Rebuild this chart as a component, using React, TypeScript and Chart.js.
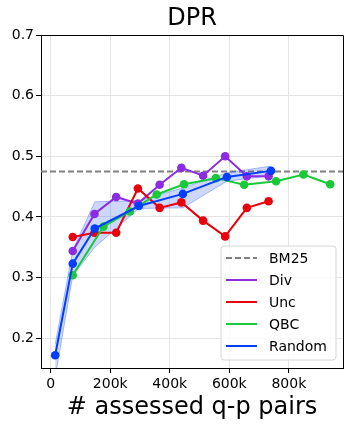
import React, { useEffect, useRef } from 'react';
import { Chart, registerables } from 'chart.js';

Chart.register(...registerables);

// x values in thousands of assessed q-p pairs
const divX = [74, 147, 220, 293, 366, 439, 512, 586, 659, 732];
const divY = [0.344, 0.405, 0.433, 0.422, 0.453, 0.481, 0.468, 0.5, 0.467, 0.467];

const uncX = [74, 147, 220, 293, 366, 439, 512, 586, 659, 732];
const uncY = [0.367, 0.374, 0.374, 0.447, 0.415, 0.424, 0.394, 0.368, 0.415, 0.426];

const qbcX = [74, 177, 266, 356, 448, 555, 650, 757, 849, 939];
const qbcY = [0.304, 0.384, 0.409, 0.437, 0.454, 0.464, 0.453, 0.459, 0.47, 0.454];

const randX = [15, 74, 148, 296, 444, 592, 740];
const randY = [0.172, 0.323, 0.381, 0.418, 0.438, 0.466, 0.476];
const randUpper = [0.19, 0.345, 0.425, 0.427, 0.448, 0.473, 0.484];
const randLower = [0.135, 0.303, 0.35, 0.414, 0.415, 0.459, 0.468];

const bm25 = 0.475;

const xTicks = [0, 200, 400, 600, 800];
const yTicks = [0.2, 0.3, 0.4, 0.5, 0.6, 0.7];
const xMin = -32.6;
const xMax = 982;
const yMin = 0.151;
const yMax = 0.7;

const COLORS = {
  bm25: '#808080',
  div: '#8b2be2',
  unc: '#e8000b',
  qbc: '#1ac938',
  rand: '#023eff',
};

const FONT = 'DejaVu Sans';

const pts = (xs: number[], ys: number[]) => xs.map((x, i) => ({ x, y: ys[i] }));

const decorPlugin = {
  id: 'decor',
  afterDraw(chart: any) {
    const { ctx, chartArea } = chart;
    const { left, right, top, bottom } = chartArea;
    ctx.save();
    // top & right spines
    ctx.strokeStyle = '#000';
    ctx.lineWidth = 1;
    ctx.beginPath();
    ctx.moveTo(left, top + 0.5);
    ctx.lineTo(right + 0.5, top + 0.5);
    ctx.lineTo(right + 0.5, bottom);
    ctx.stroke();
    // title
    ctx.fillStyle = '#000';
    ctx.font = `24px "${FONT}"`;
    ctx.textAlign = 'center';
    ctx.textBaseline = 'middle';
    ctx.fillText('DPR', (left + right) / 2, 19);

    // legend
    const items = chart.data.datasets.filter((d: any) => d.inLegend);
    const boxW = 115;
    const rowH = 22;
    const boxH = items.length * rowH + 4;
    const bx = right - 7 - boxW;
    const by = bottom - 8 - boxH;
    const r = 3;
    ctx.beginPath();
    ctx.moveTo(bx + r, by);
    ctx.lineTo(bx + boxW - r, by);
    ctx.quadraticCurveTo(bx + boxW, by, bx + boxW, by + r);
    ctx.lineTo(bx + boxW, by + boxH - r);
    ctx.quadraticCurveTo(bx + boxW, by + boxH, bx + boxW - r, by + boxH);
    ctx.lineTo(bx + r, by + boxH);
    ctx.quadraticCurveTo(bx, by + boxH, bx, by + boxH - r);
    ctx.lineTo(bx, by + r);
    ctx.quadraticCurveTo(bx, by, bx + r, by);
    ctx.closePath();
    ctx.fillStyle = 'rgba(255,255,255,0.85)';
    ctx.fill();
    ctx.strokeStyle = '#d6d6d6';
    ctx.lineWidth = 1;
    ctx.stroke();

    ctx.font = `14px "${FONT}"`;
    ctx.textAlign = 'left';
    ctx.textBaseline = 'middle';
    items.forEach((d: any, i: number) => {
      const cy = by + 12 + i * rowH;
      ctx.beginPath();
      ctx.strokeStyle = d.borderColor;
      ctx.lineWidth = 2;
      ctx.setLineDash(d.borderDash && d.borderDash.length ? [6, 3] : []);
      ctx.moveTo(bx + 5, cy);
      ctx.lineTo(bx + 36, cy);
      ctx.stroke();
      ctx.setLineDash([]);
      ctx.fillStyle = '#000';
      ctx.fillText(d.label, bx + 48, cy + 1);
    });
    ctx.restore();
  },
};

export default function App() {
  const ref = useRef<HTMLCanvasElement | null>(null);

  useEffect(() => {
    document.body.style.margin = '0';
    const canvas = ref.current;
    if (!canvas) return;
    Chart.defaults.font.family = FONT;
    const line = (label: string, color: string, data: any[], order: number) => ({
      label,
      data,
      borderColor: color,
      backgroundColor: color,
      borderWidth: 2,
      pointRadius: 4.3,
      pointHoverRadius: 4.3,
      pointBorderWidth: 0,
      pointBackgroundColor: color,
      fill: false,
      tension: 0,
      order,
      inLegend: true,
    });
    const chart = new Chart(canvas, {
      type: 'line',
      data: {
        datasets: [
          {
            label: 'BM25',
            data: [
              { x: xMin, y: bm25 },
              { x: xMax, y: bm25 },
            ],
            borderColor: COLORS.bm25,
            borderWidth: 1.8,
            borderDash: [6, 3],
            pointRadius: 0,
            fill: false,
            order: 6,
            inLegend: true,
          } as any,
          line('Div', COLORS.div, pts(divX, divY), 3),
          line('Unc', COLORS.unc, pts(uncX, uncY), 2),
          line('QBC', COLORS.qbc, pts(qbcX, qbcY), 1),
          line('Random', COLORS.rand, pts(randX, randY), 0),
          {
            label: 'Random upper',
            data: pts(randX, randUpper),
            borderColor: 'rgba(2,62,255,0.3)',
            backgroundColor: 'rgba(2,62,255,0.2)',
            borderWidth: 1,
            pointRadius: 0,
            fill: '+1',
            order: 4,
          } as any,
          {
            label: 'Random lower',
            data: pts(randX, randLower),
            borderColor: 'rgba(2,62,255,0.3)',
            backgroundColor: 'rgba(2,62,255,0.2)',
            borderWidth: 1,
            pointRadius: 0,
            fill: false,
            order: 5,
          } as any,
        ],
      },
      options: {
        animation: false,
        responsive: false,
        maintainAspectRatio: false,
        events: [],
        layout: { padding: { left: 0, right: 10, top: 35, bottom: 0 } },
        plugins: {
          legend: { display: false },
          title: { display: false },
          tooltip: { enabled: false },
        },
        scales: {
          x: {
            type: 'linear',
            min: xMin,
            max: xMax,
            afterBuildTicks: (s: any) => {
              s.ticks = xTicks.map((v) => ({ value: v }));
            },
            afterFit: (s: any) => {
              s.height = 62;
            },
            ticks: {
              color: '#000',
              font: { size: 14, family: FONT },
              padding: 3,
              maxRotation: 0,
              callback: (v: any) => (v === 0 ? '0' : `${v}k`),
            },
            grid: {
              color: '#e4e4e4',
              lineWidth: 1,
              tickColor: '#000',
              tickLength: 5,
              tickWidth: 1,
            },
            border: { color: '#000', width: 1 },
            title: {
              display: true,
              text: '# assessed q-p pairs',
              color: '#000',
              font: { size: 24, family: FONT },
              padding: { top: 0, bottom: 8 },
            },
          },
          y: {
            type: 'linear',
            min: yMin,
            max: yMax,
            afterBuildTicks: (s: any) => {
              s.ticks = yTicks.map((v) => ({ value: v }));
            },
            afterFit: (s: any) => {
              s.width = 41;
            },
            ticks: {
              color: '#000',
              font: { size: 14, family: FONT },
              padding: 2,
              callback: (v: any) => Number(v).toFixed(1),
            },
            grid: {
              color: '#e4e4e4',
              lineWidth: 1,
              tickColor: '#000',
              tickLength: 5,
              tickWidth: 1,
            },
            border: { color: '#000', width: 1 },
          },
        },
      } as any,
      plugins: [decorPlugin],
    });
    return () => chart.destroy();
  }, []);

  return (
    <div style={{ position: 'fixed', left: 0, top: 0, width: 353, height: 430, background: '#fff' }}>
      <canvas ref={ref} width={353} height={430} />
    </div>
  );
}
